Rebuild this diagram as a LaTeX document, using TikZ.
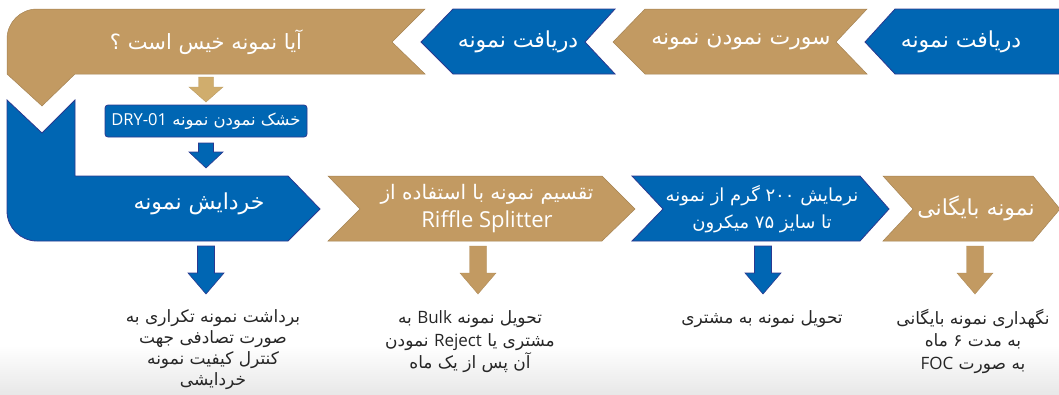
\documentclass[tikz,border=0pt]{standalone}
\usepackage{fontspec}
\TeXXeTstate=1
\newfontfamily\fa[Script=Arabic]{DejaVu Sans}
\newfontfamily\la{Open Sans}
\newcommand{\fat}[1]{{\fa\beginR #1\endR}}
\newcommand{\lat}[1]{\beginL{\la #1}\endL{}}
\definecolor{fblue}{HTML}{0066B3}
\definecolor{nblue}{HTML}{2B3990}
\definecolor{ftan}{HTML}{C29A62}
\definecolor{ltan}{HTML}{D0AD6D}
\definecolor{ttxt}{HTML}{262626}
\begin{document}
\begin{tikzpicture}[x=1pt,y=-1pt,
  bshape/.style={fill=fblue,draw=nblue,line width=0.8pt},
  tshape/.style={fill=ftan,draw=ftan!85!black,line width=0.5pt},
  wlabel/.style={text=white,font=\fa\fontsize{22}{27}\selectfont,align=center,inner sep=0pt},
  blabel/.style={text=ttxt,font=\fa\fontsize{17}{22.5}\selectfont,align=center,inner sep=0pt},
  barrow/.style={fill=fblue,draw=nblue,line width=0.6pt},
  tarrow/.style={fill=ftan,draw=ftan!90!black,line width=0.4pt},
  larrow/.style={fill=ltan,draw=ltan!90!black,line width=0.4pt}]
\useasboundingbox (0,0) rectangle (1059,394);
\shade[top color=white,bottom color=black!9] (0,345) rectangle (1059,394);

% top row
\path[tshape] (42,106) -- (7,74) -- (7,39) .. controls (7,22.4) and (20.4,9) .. (37,9)
   -- (425,9) -- (392,42) -- (425,74) -- (75,74) -- cycle;
\path[bshape] (421,42) -- (453,9) -- (615,9) -- (585,42) -- (615,74) -- (453,74) -- cycle;
\path[tshape] (613,42) -- (645,9) -- (867,9) -- (836,42) -- (867,74) -- (645,74) -- cycle;
\path[bshape] (865,42) -- (895,9) -- (1060,9) -- (1060,74) -- (895,74) -- cycle;

% big blue
\path[bshape] (7,100) -- (42,133) -- (75,100) -- (75,176) -- (288,176) -- (320,209)
   -- (288,241) -- (37,241) .. controls (20.4,241) and (7,227.6) .. (7,211) -- cycle;
% bottom row
\path[tshape] (328,176) -- (602,176) -- (635,209) -- (602,241) -- (328,241) -- (360,209) -- cycle;
\path[bshape] (632,176) -- (860,176) -- (889,209) -- (860,241) -- (632,241) -- (663,209) -- cycle;
\path[tshape] (883,176) -- (1033,176) -- (1060,209) -- (1033,241) -- (883,241) -- (913,209) -- cycle;

% labels
\node[wlabel] (n1) at (961,42) {\fat{دریافت نمونه}};
\node[wlabel] (n2) at (741,42) {\fat{سورت نمودن نمونه}};
\node[wlabel] (n3) at (518,42) {\fat{دریافت نمونه}};
\node[wlabel,font=\fa\fontsize{21}{27}\selectfont] (n4) at (206,42) {\fat{آیا نمونه خیس است ؟}};
\node[wlabel] (n5) at (199,204) {\fat{خردایش نمونه}};
\node[wlabel,font=\fa\fontsize{20}{28}\selectfont] (n6) at (487,209) {\fat{تقسیم نمونه با استفاده از}\\{\la\fontsize{22}{28}\selectfont Riffle Splitter}};
\node[wlabel,font=\fa\fontsize{18}{27}\selectfont] (n7) at (762,209) {\fat{نرمایش ۲۰۰ گرم از نمونه}\\\fat{تا سایز ۷۵ میکرون}};
\node[wlabel] (n8) at (976,208) {\fat{نمونه بایگانی}};

% DRY box
\node[fill=fblue,draw=nblue,line width=0.8pt,rounded corners=3pt,minimum width=202pt,minimum height=32pt,inner sep=0pt,
  text=white,font=\fa\fontsize{16.5}{18}\selectfont] (dry) at (206,121) {\fat{خشک نمودن نمونه \lat{DRY-01}}};

% small arrows
\path[larrow] (198.5,77) -- (213.5,77) -- (213.5,87) -- (223,87) -- (206,102) -- (189,87) -- (198.5,87) -- cycle;
\path[barrow] (198.5,143) -- (213.5,143) -- (213.5,152) -- (223,152) -- (206,168) -- (189,152) -- (198.5,152) -- cycle;

\foreach \cx/\st in {206/barrow,478/tarrow,763/barrow,975/tarrow}{
  \path[\st] (\cx-8.5,246) -- (\cx+8.5,246) -- (\cx+8.5,273) -- (\cx+18,273) -- (\cx,294) -- (\cx-18,273) -- (\cx-8.5,273) -- cycle;
}

% bottom texts
\node[blabel,font=\fa\fontsize{17}{21}\selectfont] (b1) at (213,350) {\fat{برداشت نمونه تکراری به}\\\fat{صورت تصادفی جهت}\\\fat{کنترل کیفیت نمونه}\\\fat{خردایشی}};
\node[blabel] (b2) at (470,342) {\fat{تحویل نمونه \lat{Bulk} به}\\\fat{مشتری یا \lat{Reject} نمودن}\\\fat{آن پس از یک ماه}};
\node[blabel] (b3) at (762,319) {\fat{تحویل نمونه به مشتری}};
\node[blabel] (b4) at (973,341) {\fat{نگهداری نمونه بایگانی}\\\fat{به مدت ۶ ماه}\\\fat{به صورت \lat{FOC}}};
\end{tikzpicture}
\end{document}
